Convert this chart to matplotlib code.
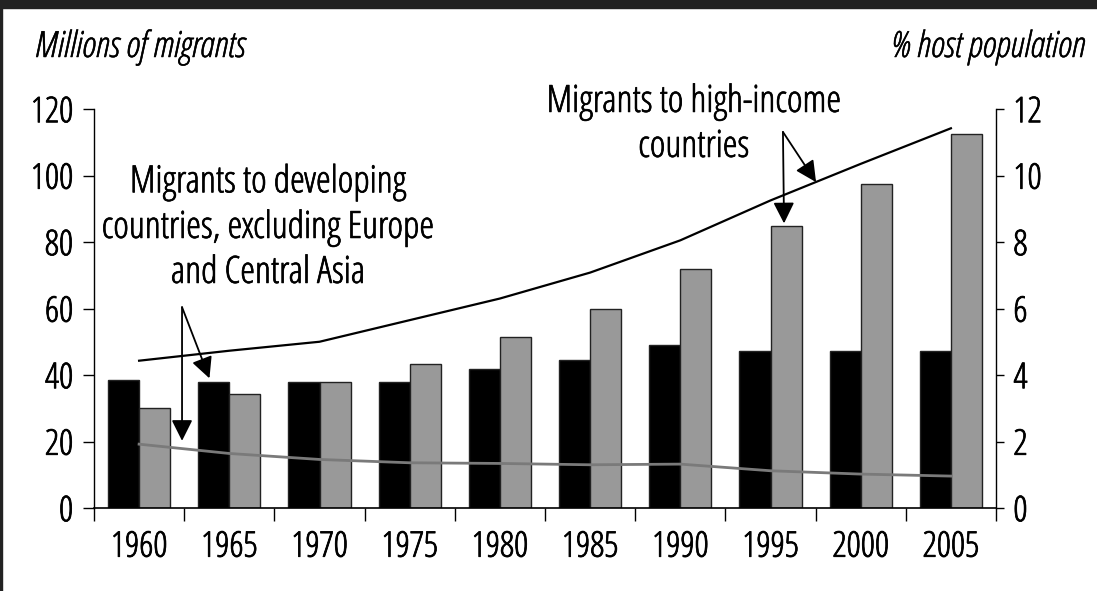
import matplotlib
matplotlib.use("Agg")
import matplotlib.pyplot as plt
from matplotlib import font_manager
from matplotlib.font_manager import FontProperties
from matplotlib.patches import Rectangle
import matplotlib.patheffects as pe
import numpy as np

# ---- data ----
years = ["1960", "1965", "1970", "1975", "1980", "1985", "1990", "1995", "2000", "2005"]
developing_millions = [38.5, 38.0, 37.8, 38.0, 41.8, 44.5, 49.0, 47.2, 47.2, 47.2]
highincome_millions = [30.1, 34.3, 37.8, 43.2, 51.4, 59.8, 71.9, 84.7, 97.4, 112.6]
highincome_pct = [4.43, 4.73, 5.0, 5.65, 6.3, 7.08, 8.05, 9.25, 10.35, 11.42]
developing_pct = [1.92, 1.64, 1.46, 1.36, 1.34, 1.30, 1.32, 1.12, 1.02, 0.96]
left_ticks = [0, 20, 40, 60, 80, 100, 120]
right_ticks = [0, 2, 4, 6, 8, 10, 12]


# ---- font: a condensed humanist sans if available ----
def find_font(italic):
    best = None
    for f in font_manager.fontManager.ttflist:
        if f.name != "Open Sans":
            continue
        if str(f.stretch) not in ("condensed", "75"):
            continue
        if (f.style == "italic") != italic:
            continue
        try:
            w = int(f.weight)
        except Exception:
            w = 400
        score = abs(w - 400)
        if best is None or score < best[0]:
            best = (score, f.fname)
    return best[1] if best else None


reg_path = find_font(False)
ita_path = find_font(True)
condensed = reg_path is not None


def fp(size, italic=False):
    path = ita_path if italic else reg_path
    if path:
        return FontProperties(fname=path, size=size)
    return FontProperties(family=["Liberation Sans", "DejaVu Sans"], size=size * 0.85,
                          style="italic" if italic else "normal")


def thick(w):
    return [pe.withStroke(linewidth=w, foreground="black")] if condensed else []


W, H = 1097, 591
fig = plt.figure(figsize=(W / 100, H / 100), dpi=100)
fig.patch.set_facecolor("white")
ax = fig.add_axes([94 / W, (H - 508) / H, (996 - 94) / W, (508 - 109) / H])
ax2 = ax.twinx()

x = np.arange(len(years))
bw = 0.345
ax.bar(x - bw / 2, developing_millions, width=bw, color="black", edgecolor="#222222", linewidth=1.0, zorder=2)
ax.bar(x + bw / 2, highincome_millions, width=bw, color="#999999", edgecolor="#222222", linewidth=1.0, zorder=2)

ax2.plot(x, highincome_pct, color="black", lw=1.6, zorder=3)
ax2.plot(x, developing_pct, color="#7a7a7a", lw=2.0, zorder=3)

ax.set_xlim(-0.5, len(years) - 0.5)
ax.set_ylim(0, 120)
ax2.set_ylim(0, 12)

for a in (ax, ax2):
    a.spines["top"].set_visible(False)
    a.set_facecolor("none")
ax.spines["left"].set_linewidth(1.0)
ax.spines["bottom"].set_linewidth(1.2)
ax.spines["right"].set_visible(False)
ax2.spines["left"].set_visible(False)
ax2.spines["bottom"].set_visible(False)
ax2.spines["right"].set_linewidth(1.0)

TICK_FS = 25.5
ax.set_yticks(left_ticks)
ax.tick_params(axis="y", direction="out", length=8, width=1.0, pad=7)
ax2.set_yticks(right_ticks)
ax2.tick_params(axis="y", direction="out", length=5.5, width=1.0, pad=7)

ax.set_xticks(np.arange(len(years) + 1) - 0.5)
ax.set_xticklabels([])
ax.tick_params(axis="x", which="major", direction="out", length=9.5, width=1.0)
ax.set_xticks(x, minor=True)
ax.set_xticklabels(years, minor=True)
ax.tick_params(axis="x", which="minor", length=0, pad=16)

for lbl in ax.get_yticklabels() + ax2.get_yticklabels() + ax.get_xticklabels(minor=True):
    lbl.set_fontproperties(fp(TICK_FS))
    lbl.set_path_effects(thick(0.55))

# ---- annotations ----
ANN_FS = 27
arrow_kw = dict(arrowstyle="-|>", color="black", lw=1.3, mutation_scale=32,
                shrinkA=0, shrinkB=0)
ax.text(6.15, 105.6, "Migrants to high-income\ncountries", ha="center", va="baseline",
        fontproperties=fp(ANN_FS), linespacing=1.22, zorder=5, path_effects=thick(0.5))
ax.annotate("", xy=(7.15, 85.6), xytext=(7.138, 113.1), arrowprops=arrow_kw, zorder=5)
ax.annotate("", xy=(7.505, 98.0), xytext=(7.138, 113.1), arrowprops=arrow_kw, zorder=5)

ax.text(1.43, 67.7, "Migrants to developing\ncountries, excluding Europe\nand Central Asia",
        ha="center", va="baseline", fontproperties=fp(ANN_FS), linespacing=1.22, zorder=5,
        path_effects=thick(0.5))
ax.annotate("", xy=(0.476, 20.2), xytext=(0.476, 60.4), arrowprops=arrow_kw, zorder=5)
ax.annotate("", xy=(0.78, 39.0), xytext=(0.476, 60.4), arrowprops=arrow_kw, zorder=5)

fig.text(35 / W, 1 - 57 / H, "Millions of migrants", ha="left", va="baseline",
         fontproperties=fp(26, italic=True), path_effects=thick(0.35))
fig.text(1085 / W, 1 - 57 / H, "% host population", ha="right", va="baseline",
         fontproperties=fp(26, italic=True), path_effects=thick(0.35))

# dark frame remnants at top and left
fig.patches.append(Rectangle((0, 1 - 8 / H), 1, 8 / H, transform=fig.transFigure,
                             color="#222222", zorder=10))
fig.patches.append(Rectangle((0, 0), 2 / W, 1, transform=fig.transFigure,
                             color="#222222", zorder=10))

fig.savefig("out.png", dpi=100, facecolor="white")
